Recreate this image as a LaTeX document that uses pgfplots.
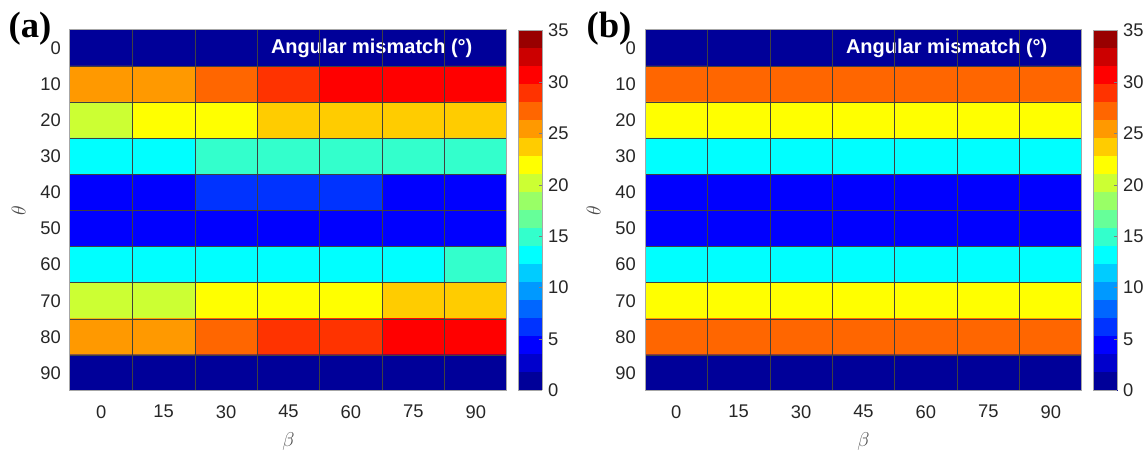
\documentclass[border=0pt]{standalone}
\usepackage{fontspec}
\setmainfont{Liberation Sans}
\newfontfamily\serifbold{Liberation Serif}
\usepackage{pgfplots}
\usepackage{pgfplotstable}
\pgfplotsset{compat=1.18}

\pgfplotstableread{
x y c
0 0 0.875
15 0 0.875
30 0 0.875
45 0 0.875
60 0 0.875
75 0 0.875
90 0 0.875
0 10 25.375
15 10 25.375
30 10 27.125
45 10 28.875
60 10 30.625
75 10 30.625
90 10 30.625
0 20 20.125
15 20 21.875
30 20 21.875
45 20 23.625
60 20 23.625
75 20 23.625
90 20 23.625
0 30 13.125
15 30 13.125
30 30 14.875
45 30 14.875
60 30 14.875
75 30 14.875
90 30 14.875
0 40 4.375
15 40 4.375
30 40 6.125
45 40 6.125
60 40 6.125
75 40 4.375
90 40 4.375
0 50 4.375
15 50 4.375
30 50 4.375
45 50 4.375
60 50 4.375
75 50 4.375
90 50 4.375
0 60 13.125
15 60 13.125
30 60 13.125
45 60 13.125
60 60 13.125
75 60 13.125
90 60 14.875
0 70 20.125
15 70 20.125
30 70 21.875
45 70 21.875
60 70 21.875
75 70 23.625
90 70 23.625
0 80 25.375
15 80 25.375
30 80 27.125
45 80 28.875
60 80 28.875
75 80 30.625
90 80 30.625
0 90 0.875
15 90 0.875
30 90 0.875
45 90 0.875
60 90 0.875
75 90 0.875
90 90 0.875
}\dataA

\pgfplotstableread{
x y c
0 0 0.875
15 0 0.875
30 0 0.875
45 0 0.875
60 0 0.875
75 0 0.875
90 0 0.875
0 10 27.125
15 10 27.125
30 10 27.125
45 10 27.125
60 10 27.125
75 10 27.125
90 10 27.125
0 20 21.875
15 20 21.875
30 20 21.875
45 20 21.875
60 20 21.875
75 20 21.875
90 20 21.875
0 30 13.125
15 30 13.125
30 30 13.125
45 30 13.125
60 30 13.125
75 30 13.125
90 30 13.125
0 40 4.375
15 40 4.375
30 40 4.375
45 40 4.375
60 40 4.375
75 40 4.375
90 40 4.375
0 50 4.375
15 50 4.375
30 50 4.375
45 50 4.375
60 50 4.375
75 50 4.375
90 50 4.375
0 60 13.125
15 60 13.125
30 60 13.125
45 60 13.125
60 60 13.125
75 60 13.125
90 60 13.125
0 70 21.875
15 70 21.875
30 70 21.875
45 70 21.875
60 70 21.875
75 70 21.875
90 70 21.875
0 80 27.125
15 80 27.125
30 80 27.125
45 80 27.125
60 80 27.125
75 80 27.125
90 80 27.125
0 90 0.875
15 90 0.875
30 90 0.875
45 90 0.875
60 90 0.875
75 90 0.875
90 90 0.875
}\dataB

\pgfplotsset{
  hm/.style={
    scale only axis,
    width=262.2pt, height=216.6pt,
    anchor=south west,
    xmin=-7.5, xmax=97.5, ymin=-5, ymax=95,
    y dir=reverse,
    xtick={0,15,...,90}, ytick={0,10,...,90},
    minor xtick={7.5,22.5,...,82.5}, minor ytick={5,15,...,85},
    xminorgrids, yminorgrids,
    minor grid style={black!75, line width=0.3pt},
    major tick length=0pt, minor tick length=0pt,
    axis on top,
    axis line style={black!35, line width=0.6pt},
    ticklabel style={font=\fontsize{11}{13}\selectfont, text=black!85},
    /pgf/number format/assume math mode=true,
    xticklabel style={yshift=-5pt},
    yticklabel style={xshift=-2pt},
    xlabel={$\beta$}, ylabel={$\theta$},
    label style={font=\fontsize{12}{14}\selectfont, text=black!70},
    xlabel style={yshift=-2pt},
    ylabel style={yshift=2pt},
    colormap={jet20}{rgb=(0,0,.6) rgb=(0,0,.8) rgb=(0,0,1) rgb=(0,.2,1) rgb=(0,.4,1) rgb=(0,.6,1) rgb=(0,.8,1) rgb=(0,1,1) rgb=(.2,1,.8) rgb=(.4,1,.6) rgb=(.6,1,.4) rgb=(.8,1,.2) rgb=(1,1,0) rgb=(1,.8,0) rgb=(1,.6,0) rgb=(1,.4,0) rgb=(1,.2,0) rgb=(1,0,0) rgb=(.8,0,0) rgb=(.6,0,0)},
    colormap access=piecewise constant,
    point meta min=0, point meta max=35,
    colorbar,
    colorbar style={
      at={(parent axis.north east)}, anchor=north west,
      xshift=-1.8pt,
      scale only axis,
      width=14.4pt, height=216pt,
      yshift=-0.3pt,
      ytick={0,5,...,35},
      ytick pos=right,
      yticklabel pos=right,
      tick align=inside,
      major tick length=2pt,
      major tick style={black!50},
      axis line style={black!35},
      yticklabel style={font=\fontsize{11}{13}\selectfont, text=black!85, xshift=0pt},
      /pgf/number format/assume math mode=true,
    },
  }
}

\begin{document}
\begin{tikzpicture}
\useasboundingbox (0,0) rectangle (688.8pt,271.8pt);
\begin{axis}[hm, at={(42pt,37.2pt)}]
\addplot[matrix plot*, mesh/cols=7, point meta=explicit] table[x=x, y=y, meta=c] {\dataA};
\node[text=white, font=\bfseries\fontsize{12}{14}\selectfont] at (axis cs:65,0) {Angular mismatch (°)};
\end{axis}
\begin{axis}[hm, at={(387pt,37.2pt)}]
\addplot[matrix plot*, mesh/cols=7, point meta=explicit] table[x=x, y=y, meta=c] {\dataB};
\node[text=white, font=\bfseries\fontsize{12}{14}\selectfont] at (axis cs:65,0) {Angular mismatch (°)};
\end{axis}
\node[font=\serifbold\bfseries\fontsize{22}{24}\selectfont] at (18pt,254.4pt) {(a)};
\node[font=\serifbold\bfseries\fontsize{22}{24}\selectfont] at (365.4pt,254.4pt) {(b)};
\end{tikzpicture}
\end{document}
